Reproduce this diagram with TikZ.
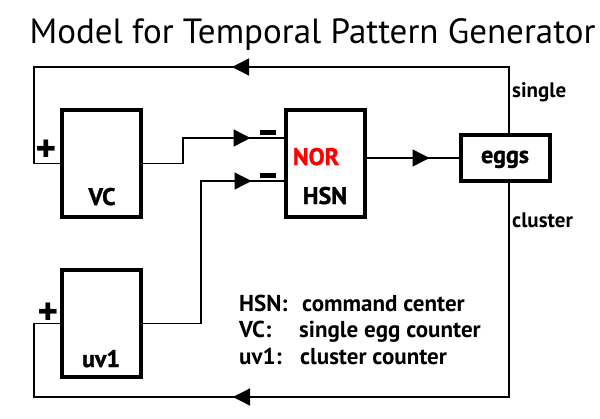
\documentclass[tikz,border=0pt]{standalone}
\usepackage{fontspec}
\setmainfont{PT Sans}
\newfontfamily\signfont{DejaVu Sans}
\newfontfamily\heavyfont[FakeBold=1.2]{PT Sans Bold}
\usetikzlibrary{arrows.meta,decorations.markings}
\begin{document}
\begin{tikzpicture}[x=1pt,y=-1pt,
  box/.style={draw,line width=4pt,minimum width=79pt,minimum height=107pt,inner sep=0pt},
  eggbox/.style={draw,line width=4pt,minimum width=89pt,minimum height=46pt,inner sep=0pt},
  wire/.style={line width=1.4pt},
  midarrow/.style={postaction=decorate,decoration={markings,mark=at position #1 with {\arrow{Triangle[length=17pt,width=17pt]}}}},
  lbl/.style={font=\heavyfont\fontsize{24}{28}\selectfont,inner sep=0pt,anchor=base},
  sign/.style={fill=black,minimum width=16pt,minimum height=5pt,inner sep=0pt},
  plus/.style={font=\signfont\fontsize{24}{26}\selectfont,inner sep=0pt},
  leg/.style={font=\bfseries\fontsize{23}{26}\selectfont,inner sep=0pt,anchor=base west},
  side/.style={font=\bfseries\fontsize{21}{24}\selectfont,inner sep=0pt,anchor=base west}]
\useasboundingbox (0,0) rectangle (600,418);
% title
\node[font=\fontsize{35}{40}\selectfont,inner sep=0pt,anchor=base] (title) at (312.5,43) {Model for Temporal Pattern Generator};
% boxes
\node[box] (VC) at (101.5,163.5) {};
\node[box] (HSN) at (325,163.5) {};
\node[box] (UV) at (101.5,323.5) {};
\node[eggbox] (eggs) at (505.5,158) {};
% box labels
\node[lbl] (VCt) at (102,205) {VC};
\node[lbl] (HSNt) at (325,204) {HSN};
\node[lbl,text=red] (NORt) at (316,165) {NOR};
\node[lbl] (eggst) at (505,163) {eggs};
\node[lbl] (UVt) at (101,367) {uv1};
% corner coordinates
\coordinate (tr) at (509,67);
\coordinate (tl) at (34,67);
\coordinate (br) at (509,397);
\coordinate (bl) at (34,397);
\coordinate (j1) at (183,138);
\coordinate (j2) at (201,181);
% wires
\draw[wire,midarrow=343pt] (eggs.north -| tr) -- (tr) -- (tl) |- (VC.west);
\draw[wire,midarrow=490pt] (eggs.south -| br) -- (br) -- (bl) |- (UV.west);
\draw[wire,midarrow=133pt] (VC.east) -| (j1) -- (HSN.west |- j1);
\draw[wire,midarrow=251pt] (UV.east) -| (j2) -- (HSN.west |- j2);
\draw[wire,midarrow=63pt] (HSN.east |- eggs) -- (eggs.west);
% signs
\node[plus] (p1) at (46,149) {✚};
\node[plus] (p2) at (48,312) {✚};
\node[sign] (m1) at (268,132) {};
\node[sign] (m2) at (268,175) {};
% side labels
\node[side] (single) at (512,97) {single};
\node[side] (cluster) at (512,227) {cluster};
% legend
\node[leg] (l1) at (239,311) {\makebox[63pt][l]{HSN:}command center};
\node[leg] (l2) at (239,337) {\makebox[60pt][l]{VC:}single egg counter};
\node[leg] (l3) at (239,364) {\makebox[61pt][l]{uv1:}cluster counter};
\end{tikzpicture}
\end{document}
